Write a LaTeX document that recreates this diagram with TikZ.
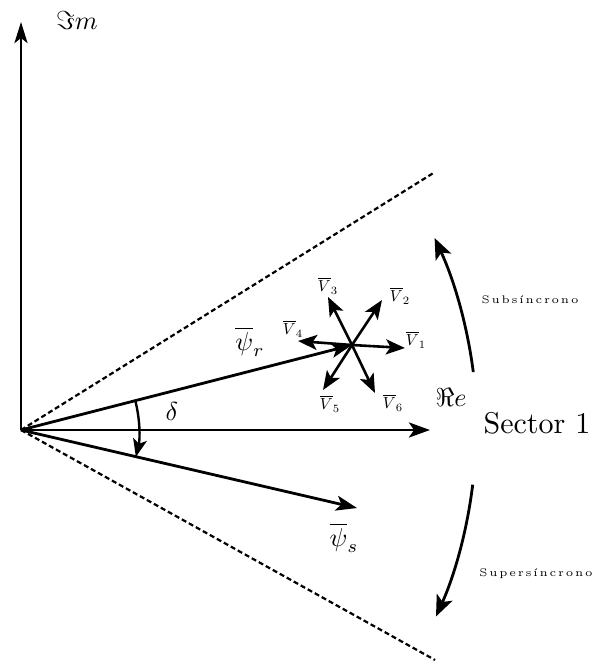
\documentclass[tikz,border=0pt]{standalone}
\usetikzlibrary{arrows.meta,calc}
\newcommand{\ls}{\kern0.8pt}
\tikzset{
  vec/.style={line width=2.8pt, -{Stealth[length=21pt,width=15pt,inset=5pt]}},
  svec/.style={line width=2.6pt, -{Stealth[length=19pt,width=15pt,inset=4.5pt]}},
  arcvec/.style={line width=2.8pt, -{Stealth[length=21pt,width=17pt,inset=5pt]}},
  dashln/.style={line width=2.2pt, dash pattern=on 5pt off 3pt},
  biglbl/.style={scale=2.6, inner sep=0pt},
  vlbl/.style={scale=1.6, inner sep=0pt},
  smalltxt/.style={font=\fontsize{5}{6}\selectfont, scale=2.2, inner sep=0pt},
}
\begin{document}
\begin{tikzpicture}[x=1pt,y=-1pt]
\useasboundingbox (0,0) rectangle (598,664);
\coordinate (O) at (21,430);
\coordinate (imtip) at (21,22);
\coordinate (retip) at (430,430);
\coordinate (C) at (352,345);
\coordinate (pstip) at (357,508);
\coordinate (du) at (435,172);
\coordinate (dl) at (435,660);
\coordinate (v1) at (405,348);
\coordinate (v2) at (382,300);
\coordinate (v3) at (328,297);
\coordinate (v4) at (298,341);
\coordinate (v5) at (323,390);
\coordinate (v6) at (375,393);
% dashed sector limits
\draw[dashln] (O) -- (du);
\draw[dashln] (O) -- (dl);
% axes
\draw[line width=2.8pt, -{Stealth[length=21pt,width=13pt,inset=5pt]}] (O) -- (imtip);
\draw[vec] (O) -- (retip);
% flux vectors
\draw[vec] (O) -- (C);
\draw[vec] (O) -- (pstip);
% voltage vectors
\foreach \v in {v1,v2,v3,v4,v5,v6} \draw[svec] (C) -- (\v);
% delta arc (y axis points down, so angles are mirrored)
\draw[line width=2.4pt, -{Stealth[length=18pt,width=14pt,inset=4.5pt]}]
  ($(O)+(-14.4:118)$) arc[start angle=-14.4, end angle=13.2, radius=118];
% speed arcs
\draw[arcvec] ($(O)+(-7.3:456)$) arc[start angle=-7.3, end angle=-24.9, radius=456];
\draw[arcvec] ($(O)+(6.9:455)$) arc[start angle=6.9, end angle=24.2, radius=455];
% labels
\node[biglbl] (im) at (77,20) {$\Im m$};
\node[biglbl] (re) at (451,397) {$\Re e$};
\node[scale=3, inner sep=0pt] (sec) at (537,423) {Sector 1};
\node[biglbl] (psr) at (250,342) {$\overline{\psi}_r$};
\node[biglbl] (pss) at (344,538) {$\overline{\psi}_s$};
\node[biglbl] (del) at (172,411) {$\delta$};
\node[vlbl] (l1) at (416,340) {$\overline{V}_1$};
\node[vlbl] (l2) at (400,296) {$\overline{V}_2$};
\node[vlbl] (l3) at (328,286) {$\overline{V}_3$};
\node[vlbl] (l4) at (293,329) {$\overline{V}_4$};
\node[vlbl] (l5) at (330,404) {$\overline{V}_5$};
\node[vlbl] (l6) at (393,403) {$\overline{V}_6$};
\node[smalltxt] (sub) at (530,300) {S\ls u\ls b\ls s\ls \'{\i}\ls n\ls c\ls r\ls o\ls n\ls o};
\node[smalltxt] (sup) at (536,574) {S\ls u\ls p\ls e\ls r\ls s\ls \'{\i}\ls n\ls c\ls r\ls o\ls n\ls o};
\end{tikzpicture}
\end{document}
